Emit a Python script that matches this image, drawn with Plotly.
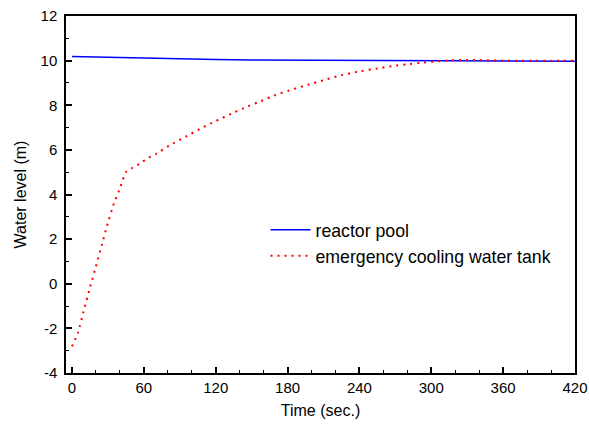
import plotly.graph_objects as go

# Reactor pool water level
time_pool = [0, 30, 60, 90, 120, 150, 180, 210, 240, 270, 300, 330, 360, 390, 420]
level_pool = [10.18, 10.14, 10.10, 10.07, 10.05, 10.03, 10.02, 10.01, 10.0, 9.99, 9.98, 9.98, 9.97, 9.97, 9.97]

# Emergency cooling water tank level
time_tank = [0, 5, 10, 15, 20, 25, 29, 35, 40, 42, 45, 50, 57, 63, 70, 82, 95, 107, 120, 133, 145, 158,
             170, 184, 197, 210, 222, 240, 254, 268, 279, 292, 305, 317, 330, 345, 360, 380, 400, 420]
level_tank = [-2.81, -2.2, -1.17, -0.17, 0.78, 1.75, 2.55, 3.6, 4.26, 4.6, 5.0, 5.18, 5.39, 5.62, 5.81,
              6.22, 6.59, 6.95, 7.29, 7.62, 7.91, 8.19, 8.46, 8.71, 8.92, 9.12, 9.31, 9.52, 9.64, 9.76,
              9.83, 9.91, 9.97, 10.02, 10.03, 10.02, 10.0, 10.0, 10.0, 10.0]

x_ticks = [0, 60, 120, 180, 240, 300, 360, 420]
y_ticks = [-4, -2, 0, 2, 4, 6, 8, 10, 12]
y_tick_labels = ["-4", "-2", "0", "2", "4", "6", "8", "10", "12"]

FONT = "Liberation Sans, Arial, sans-serif"

fig = go.Figure()
fig.add_trace(go.Scatter(x=time_pool, y=level_pool, mode="lines", name="reactor pool",
                         line=dict(color="#0000ff", width=1.5)))
fig.add_trace(go.Scatter(x=time_tank, y=level_tank, mode="lines", name="emergency cooling water tank",
                         line=dict(color="#ff0000", width=2, dash="2px,5px", shape="spline", smoothing=0.3)))

axis_common = dict(showgrid=False, zeroline=False, showline=True, linecolor="black", linewidth=1.5,
                   mirror=True, ticks="inside", ticklen=6, tickwidth=1.5, tickcolor="black",
                   automargin=False,
                   tickfont=dict(family=FONT, size=15, color="black"))

fig.update_xaxes(range=[-5, 420], tickvals=x_ticks,
                 minor=dict(dtick=20, ticks="inside", ticklen=3, tickwidth=1, tickcolor="black"),
                 title=dict(text="Time (sec.)", font=dict(family=FONT, size=16, color="black"), standoff=10),
                 **axis_common)
fig.update_yaxes(range=[-4, 12], tickvals=y_ticks, ticktext=y_tick_labels, ticklabelstandoff=4,
                 minor=dict(dtick=1, ticks="inside", ticklen=3, tickwidth=1, tickcolor="black"),
                 title=dict(text="Water level (m)", font=dict(family=FONT, size=16, color="black"), standoff=10),
                 **axis_common)

fig.update_layout(
    width=589, height=425,
    margin=dict(l=66, r=14, t=16, b=52),
    paper_bgcolor="white", plot_bgcolor="white",
    font=dict(family=FONT, size=15, color="black"),
    legend=dict(x=0.392, y=0.452, xanchor="left", yanchor="top", bgcolor="rgba(0,0,0,0)",
                font=dict(size=17.7), tracegroupgap=0, itemwidth=40),
    showlegend=True,
)

fig.write_html("out.html")
